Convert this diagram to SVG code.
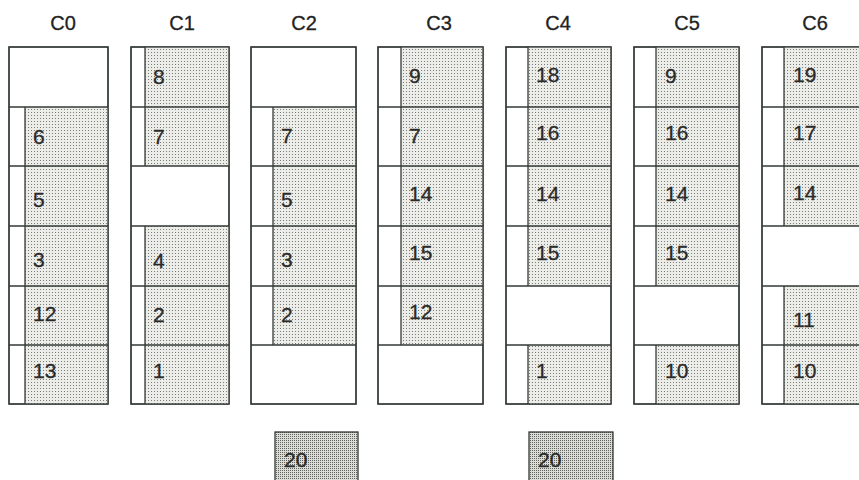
<svg xmlns="http://www.w3.org/2000/svg" width="859" height="480" viewBox="0 0 859 480">
<defs>
<pattern id="dots" x="0" y="0" width="3" height="3" patternUnits="userSpaceOnUse">
<rect width="3" height="3" fill="#ececE8"/>
<rect x="1" y="1" width="1" height="1" fill="#7a7c77"/>
</pattern>
<pattern id="dots2" x="0" y="0" width="2" height="2" patternUnits="userSpaceOnUse">
<rect width="2" height="2" fill="#dcdcd8"/>
<rect x="0" y="0" width="1" height="1" fill="#5f615c"/>
</pattern>
<style>
.col{fill:#ffffff;stroke:#333a36;stroke-width:1.3}
.sh{fill:url(#dots);stroke:none}
.ln{stroke:#333a36;stroke-width:1.3;fill:none}
.hd{font-family:"Liberation Sans",Arial,sans-serif;font-size:20px;fill:#222;stroke:#222;stroke-width:0.3;text-anchor:middle}
.num{font-family:"Liberation Sans",Arial,sans-serif;font-size:21px;fill:#2a2a2a;stroke:#2a2a2a;stroke-width:0.3}
.big{fill:url(#dots2);stroke:#333a36;stroke-width:1.3}
</style>
</defs>
<rect width="859" height="480" fill="#ffffff"/>

<g id="headers">
<text class="hd" x="63" y="30">C0</text>
<text class="hd" x="182" y="30">C1</text>
<text class="hd" x="304" y="30">C2</text>
<text class="hd" x="439" y="30">C3</text>
<text class="hd" x="558" y="30">C4</text>
<text class="hd" x="687" y="30">C5</text>
<text class="hd" x="815" y="30">C6</text>
</g>

<!-- C0 -->
<g id="C0">
<rect class="col" x="9" y="47" width="99" height="357"/>
<rect class="sh" x="25" y="107" width="83" height="297"/>
<line class="ln" x1="25" y1="107" x2="25" y2="404"/>
<line class="ln" x1="9" y1="107" x2="108" y2="107"/>
<line class="ln" x1="9" y1="166" x2="108" y2="166"/>
<line class="ln" x1="9" y1="226" x2="108" y2="226"/>
<line class="ln" x1="9" y1="286" x2="108" y2="286"/>
<line class="ln" x1="9" y1="345" x2="108" y2="345"/>
<rect x="9" y="47" width="99" height="357" fill="none" stroke="#333a36" stroke-width="1.3"/>
<g id="C0-6"><text class="num" x="33" y="144">6</text></g>
<g id="C0-5"><text class="num" x="33" y="207">5</text></g>
<g id="C0-3"><text class="num" x="33" y="267">3</text></g>
<g id="C0-12"><text class="num" x="33" y="321">12</text></g>
<g id="C0-13"><text class="num" x="33" y="378">13</text></g>
</g>

<!-- C1 -->
<g id="C1">
<rect class="col" x="131" y="47" width="98" height="357"/>
<rect class="sh" x="145" y="47" width="84" height="119"/>
<rect class="sh" x="145" y="226" width="84" height="178"/>
<line class="ln" x1="145" y1="47" x2="145" y2="166"/>
<line class="ln" x1="145" y1="226" x2="145" y2="404"/>
<line class="ln" x1="131" y1="107" x2="229" y2="107"/>
<line class="ln" x1="131" y1="166" x2="229" y2="166"/>
<line class="ln" x1="131" y1="226" x2="229" y2="226"/>
<line class="ln" x1="131" y1="286" x2="229" y2="286"/>
<line class="ln" x1="131" y1="345" x2="229" y2="345"/>
<rect x="131" y="47" width="98" height="357" fill="none" stroke="#333a36" stroke-width="1.3"/>
<g id="C1-8"><text class="num" x="153" y="84">8</text></g>
<g id="C1-7"><text class="num" x="153" y="144">7</text></g>
<g id="C1-4"><text class="num" x="153" y="268">4</text></g>
<g id="C1-2"><text class="num" x="153" y="322">2</text></g>
<g id="C1-1"><text class="num" x="153" y="378">1</text></g>
</g>

<!-- C2 -->
<g id="C2">
<rect class="col" x="251" y="47" width="105" height="357"/>
<rect class="sh" x="273" y="107" width="83" height="238"/>
<line class="ln" x1="273" y1="107" x2="273" y2="345"/>
<line class="ln" x1="251" y1="107" x2="356" y2="107"/>
<line class="ln" x1="251" y1="166" x2="356" y2="166"/>
<line class="ln" x1="251" y1="226" x2="356" y2="226"/>
<line class="ln" x1="251" y1="286" x2="356" y2="286"/>
<line class="ln" x1="251" y1="345" x2="356" y2="345"/>
<rect x="251" y="47" width="105" height="357" fill="none" stroke="#333a36" stroke-width="1.3"/>
<g id="C2-7"><text class="num" x="281" y="143">7</text></g>
<g id="C2-5"><text class="num" x="281" y="207">5</text></g>
<g id="C2-3"><text class="num" x="281" y="267">3</text></g>
<g id="C2-2"><text class="num" x="281" y="322">2</text></g>
</g>

<!-- C3 -->
<g id="C3">
<rect class="col" x="378" y="47" width="105" height="357"/>
<rect class="sh" x="401" y="47" width="82" height="298"/>
<line class="ln" x1="401" y1="47" x2="401" y2="345"/>
<line class="ln" x1="378" y1="107" x2="483" y2="107"/>
<line class="ln" x1="378" y1="166" x2="483" y2="166"/>
<line class="ln" x1="378" y1="226" x2="483" y2="226"/>
<line class="ln" x1="378" y1="286" x2="483" y2="286"/>
<line class="ln" x1="378" y1="345" x2="483" y2="345"/>
<rect x="378" y="47" width="105" height="357" fill="none" stroke="#333a36" stroke-width="1.3"/>
<g id="C3-9"><text class="num" x="409" y="83">9</text></g>
<g id="C3-7"><text class="num" x="409" y="143">7</text></g>
<g id="C3-14"><text class="num" x="409" y="201">14</text></g>
<g id="C3-15"><text class="num" x="409" y="260">15</text></g>
<g id="C3-12"><text class="num" x="409" y="319">12</text></g>
</g>

<!-- C4 -->
<g id="C4">
<rect class="col" x="506" y="47" width="105" height="357"/>
<rect class="sh" x="528" y="47" width="83" height="239"/>
<rect class="sh" x="528" y="345" width="83" height="59"/>
<line class="ln" x1="528" y1="47" x2="528" y2="286"/>
<line class="ln" x1="528" y1="345" x2="528" y2="404"/>
<line class="ln" x1="506" y1="107" x2="611" y2="107"/>
<line class="ln" x1="506" y1="166" x2="611" y2="166"/>
<line class="ln" x1="506" y1="226" x2="611" y2="226"/>
<line class="ln" x1="506" y1="286" x2="611" y2="286"/>
<line class="ln" x1="506" y1="345" x2="611" y2="345"/>
<rect x="506" y="47" width="105" height="357" fill="none" stroke="#333a36" stroke-width="1.3"/>
<g id="C4-18"><text class="num" x="536" y="82">18</text></g>
<g id="C4-16"><text class="num" x="536" y="140">16</text></g>
<g id="C4-14"><text class="num" x="536" y="201">14</text></g>
<g id="C4-15"><text class="num" x="536" y="260">15</text></g>
<g id="C4-1"><text class="num" x="536" y="378">1</text></g>
</g>

<!-- C5 -->
<g id="C5">
<rect class="col" x="634" y="47" width="105" height="357"/>
<rect class="sh" x="656" y="47" width="83" height="239"/>
<rect class="sh" x="656" y="345" width="83" height="59"/>
<line class="ln" x1="656" y1="47" x2="656" y2="286"/>
<line class="ln" x1="656" y1="345" x2="656" y2="404"/>
<line class="ln" x1="634" y1="107" x2="739" y2="107"/>
<line class="ln" x1="634" y1="166" x2="739" y2="166"/>
<line class="ln" x1="634" y1="226" x2="739" y2="226"/>
<line class="ln" x1="634" y1="286" x2="739" y2="286"/>
<line class="ln" x1="634" y1="345" x2="739" y2="345"/>
<rect x="634" y="47" width="105" height="357" fill="none" stroke="#333a36" stroke-width="1.3"/>
<g id="C5-9"><text class="num" x="665" y="83">9</text></g>
<g id="C5-16"><text class="num" x="665" y="140">16</text></g>
<g id="C5-14"><text class="num" x="665" y="201">14</text></g>
<g id="C5-15"><text class="num" x="665" y="260">15</text></g>
<g id="C5-10"><text class="num" x="665" y="378">10</text></g>
</g>

<!-- C6 -->
<g id="C6">
<rect class="col" x="762" y="47" width="105" height="357"/>
<rect class="sh" x="784" y="47" width="83" height="179"/>
<rect class="sh" x="784" y="286" width="83" height="118"/>
<line class="ln" x1="784" y1="47" x2="784" y2="226"/>
<line class="ln" x1="784" y1="286" x2="784" y2="404"/>
<line class="ln" x1="762" y1="107" x2="867" y2="107"/>
<line class="ln" x1="762" y1="166" x2="867" y2="166"/>
<line class="ln" x1="762" y1="226" x2="867" y2="226"/>
<line class="ln" x1="762" y1="286" x2="867" y2="286"/>
<line class="ln" x1="762" y1="345" x2="867" y2="345"/>
<rect x="762" y="47" width="105" height="357" fill="none" stroke="#333a36" stroke-width="1.3"/>
<g id="C6-19"><text class="num" x="793" y="82">19</text></g>
<g id="C6-17"><text class="num" x="793" y="140">17</text></g>
<g id="C6-14"><text class="num" x="793" y="200">14</text></g>
<g id="C6-11"><text class="num" x="793" y="327">11</text></g>
<g id="C6-10"><text class="num" x="793" y="378">10</text></g>
</g>

<g id="spare-C2">
<rect class="big" x="275" y="432" width="83" height="52"/>
<text class="num" x="284" y="467">20</text>
</g>
<g id="spare-C4">
<rect class="big" x="529" y="432" width="84" height="52"/>
<text class="num" x="538" y="467">20</text>
</g>
</svg>
